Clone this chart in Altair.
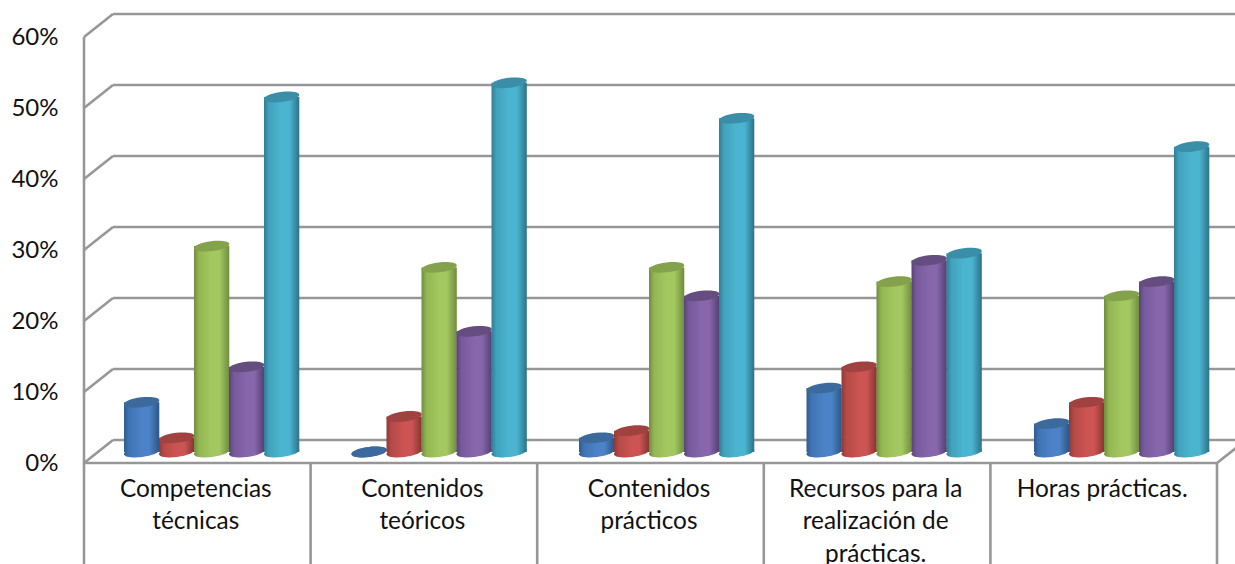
import altair as alt
import pandas as pd

categories = ["Competencias técnicas", "Contenidos teóricos", "Contenidos prácticos",
              "Recursos para la realización de prácticas.", "Horas prácticas."]
category_lines = [["Competencias", "técnicas"], ["Contenidos", "teóricos"], ["Contenidos", "prácticos"],
                  ["Recursos para la", "realización de", "prácticas."], ["Horas prácticas."]]
series_names = ["Serie 1", "Serie 2", "Serie 3", "Serie 4", "Serie 5"]
series_values = [
    [7, 0, 2, 9, 4],
    [2, 5, 3, 12, 7],
    [29, 26, 26, 24, 22],
    [12, 17, 22, 27, 24],
    [50, 52, 47, 28, 43],
]
ticks = [0, 10, 20, 30, 40, 50, 60]

# cylinder shading: rim, shoulder, lit centre, right rim, cap
palette = [
    ("#2f5b90", "#3f74b4", "#4c82c7", "#2c5683", "#3d6a9c"),
    ("#8f3937", "#b54a47", "#cc5452", "#843533", "#a04240"),
    ("#6f8c3d", "#93b652", "#a3c860", "#708c3f", "#84a24c"),
    ("#59437a", "#775a9b", "#8766ac", "#543f72", "#654d80"),
    ("#2f7d95", "#42a2bc", "#4bb5d1", "#2c7288", "#3a8ea8"),
]

# chart scales span the whole canvas: x in category widths, y in percentage points
CAT_W = 226.6
PX_PER_PCT = 7.1
X_DOMAIN = [-84 / CAT_W, (1235 - 84) / CAT_W]
Y_DOMAIN = [(452 - 564) / PX_PER_PCT, 452 / PX_PER_PCT]
BACK = 12 / PX_PER_PCT      # rear wall sits above the bar baseline
FRONT = -11 / PX_PER_PCT    # front edge sits below the bar baseline
DEPTH = 29 / CAT_W          # horizontal depth of the floor
BAR_W = 35.3 / CAT_W
BAR_STEP = 35.0 / CAT_W
BAR_START = 40 / CAT_W
GROUP_STEP = 227.5 / CAT_W
X_END = X_DOMAIN[1]
Y_BOTTOM = Y_DOMAIN[0]

GRID = "#979797"
LINE_W = 2.6
TEXT = "#111111"
FONT = "Lato"

x_scale = alt.Scale(domain=X_DOMAIN, range=[0, 1235], nice=False, zero=False)
y_scale = alt.Scale(domain=Y_DOMAIN, range=[564, 0], nice=False, zero=False)
X = lambda f: alt.X(f, type="quantitative", scale=x_scale, axis=None)
Y = lambda f: alt.Y(f, type="quantitative", scale=y_scale, axis=None)


def segments(df):
    return alt.Chart(df).mark_rule(color=GRID, strokeWidth=LINE_W).encode(
        x=X("x"), x2=alt.X2("x2"), y=Y("y"), y2=alt.Y2("y2"))


grid_back = segments(pd.DataFrame(
    [{"x": DEPTH, "x2": X_END, "y": t + BACK, "y2": t + BACK} for t in ticks]))
grid_side = segments(pd.DataFrame(
    [{"x": 0, "x2": DEPTH, "y": t + FRONT, "y2": t + BACK} for t in ticks]))
floor_right = segments(pd.DataFrame(
    [{"x": 5, "x2": 5 + DEPTH, "y": FRONT, "y2": BACK}]))
axis_left = segments(pd.DataFrame(
    [{"x": 0, "x2": 0, "y": Y_BOTTOM, "y2": 60 + FRONT}]))
axis_front = segments(pd.DataFrame(
    [{"x": 0, "x2": 5, "y": FRONT, "y2": FRONT}]))
dividers = segments(pd.DataFrame(
    [{"x": i, "x2": i, "y": Y_BOTTOM, "y2": FRONT} for i in range(1, 6)]))

layers = [grid_back, grid_side, floor_right, axis_left, axis_front, dividers]

# each series is a shaded body, a rounded foot and a darker elliptical cap
ELLIPSE = "M-1,0 A1,0.28 0 1,1 1,0 A1,0.28 0 1,1 -1,0 Z"
CAP_SIZE = 35.6 ** 2
TILT = 353
for s, values in enumerate(series_values):
    rim, shoulder, mid_c, right_rim, cap_c = palette[s]
    shade = alt.Gradient(
        gradient="linear", x1=0, x2=1, y1=0, y2=0,
        stops=[
            alt.GradientStop(offset=0, color=rim),
            alt.GradientStop(offset=0.14, color=shoulder),
            alt.GradientStop(offset=0.5, color=mid_c),
            alt.GradientStop(offset=0.72, color=mid_c),
            alt.GradientStop(offset=1, color=right_rim),
        ],
    )
    rows = []
    for g, v in enumerate(values):
        left = BAR_START + g * GROUP_STEP + s * BAR_STEP
        rows.append({"categoria": categories[g], "serie": series_names[s], "valor": v,
                     "left": left, "right": left + BAR_W, "mid": left + BAR_W / 2, "base": 0})
    df = pd.DataFrame(rows)
    body = alt.Chart(df).mark_rect(fill=shade, strokeWidth=0).encode(
        x=X("left"), x2=alt.X2("right"), y=Y("valor"), y2=alt.Y2("base"))
    foot = alt.Chart(df).mark_point(
        shape=ELLIPSE, size=CAP_SIZE, filled=True, fill=shade, strokeWidth=0, opacity=1, angle=TILT
    ).encode(x=X("mid"), y=Y("base"))
    cap = alt.Chart(df).mark_point(
        shape=ELLIPSE, size=CAP_SIZE, filled=True, fill=cap_c, strokeWidth=0, opacity=1, angle=TILT
    ).encode(x=X("mid"), y=Y("valor"))
    layers += [foot, body, cap]

# percentage labels on the front edge of the left wall
tick_df = pd.DataFrame({"t": ticks, "label": [f"{t}%" for t in ticks],
                        "pos": [t + FRONT - 0.1 for t in ticks], "x": [-25.5 / CAT_W] * len(ticks)})
tick_text = alt.Chart(tick_df).mark_text(
    align="right", baseline="middle", font=FONT, fontSize=24, color=TEXT
).encode(x=X("x"), y=Y("pos"), text=alt.Text("label:N"))

# category labels, wrapped line by line inside their cells
ROW_STEP = 32.8 / PX_PER_PCT
label_rows = []
for g, lines in enumerate(category_lines):
    for r, line in enumerate(lines):
        label_rows.append({"line": line, "x": g + 0.5 - 1.5 / CAT_W,
                           "row": -5.3 - r * ROW_STEP})
cat_text = alt.Chart(pd.DataFrame(label_rows)).mark_text(
    align="center", baseline="middle", font=FONT, fontSize=24.4, color=TEXT
).encode(x=X("x"), y=Y("row"), text=alt.Text("line:N"))

layers += [tick_text, cat_text]

chart = alt.layer(*layers).properties(
    width=1235, height=564, padding=0,
    autosize=alt.AutoSizeParams(type="none"),
    background="white",
).configure_view(stroke=None)

chart.save("out.html", embed_options={"renderer": "svg", "actions": False})
